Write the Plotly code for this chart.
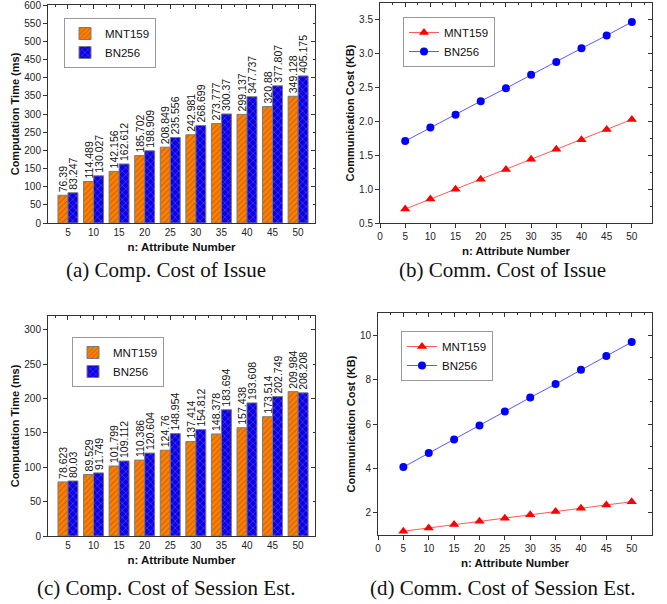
import plotly.graph_objects as go

# ---------------- data ----------------
n_attr = [5, 10, 15, 20, 25, 30, 35, 40, 45, 50]

# (a) computation time of issue (ms)
issue_mnt159 = [76.39, 114.489, 142.156, 185.702, 208.849, 242.981, 273.777, 299.137, 320.88, 349.128]
issue_bn256 = [83.247, 130.027, 162.612, 198.909, 235.556, 268.699, 300.37, 347.737, 377.807, 405.175]

# (b) communication cost of issue (KB)
comm_issue_mnt159 = [0.706, 0.853, 1.0, 1.147, 1.29, 1.44, 1.59, 1.73, 1.88, 2.03]
comm_issue_bn256 = [1.71, 1.91, 2.10, 2.30, 2.49, 2.69, 2.88, 3.08, 3.27, 3.47]

# (c) computation time of session establishment (ms)
sess_mnt159 = [78.623, 89.529, 101.799, 110.386, 124.76, 137.414, 148.378, 157.438, 173.514, 209.984]
sess_bn256 = [80.03, 91.749, 109.112, 120.604, 148.954, 154.812, 183.694, 193.608, 202.749, 208.208]

# (d) communication cost of session establishment (KB)
comm_sess_mnt159 = [1.17, 1.32, 1.47, 1.62, 1.76, 1.91, 2.06, 2.21, 2.35, 2.50]
comm_sess_bn256 = [4.06, 4.69, 5.30, 5.93, 6.56, 7.19, 7.80, 8.44, 9.06, 9.69]

series_names = ["MNT159", "BN256"]
captions = ["(a) Comp. Cost of Issue", "(b) Comm. Cost of Issue",
            "(c) Comp. Cost of Session Est.", "(d) Comm. Cost of Session Est."]

# ---------------- style ----------------
W, H = 667, 604
FONT = "Liberation Sans, Arial, sans-serif"
ORANGE = "#ff8000"
BLUE = "#0000ff"
BAR_W = 1.95

def px_x(a, b):
    return [a / W, b / W]

def px_y(top, bottom):
    return [1 - bottom / H, 1 - top / H]

fig = go.Figure()

def add_bars(mnt, bn, xa, ya, legend):
    fig.add_trace(go.Bar(
        x=n_attr, y=mnt, name=series_names[0], width=BAR_W, offset=-BAR_W,
        marker=dict(color=ORANGE, line=dict(color="#7a7a7a", width=1),
                    pattern=dict(shape="/", fgcolor="#a04800", bgcolor=ORANGE, size=4, solidity=0.3)),
        text=[str(v) for v in mnt], textposition="outside", textangle=-90,
        constraintext="none", cliponaxis=False,
        textfont=dict(family=FONT, size=10.5, color="#111"),
        xaxis=xa, yaxis=ya, legend=legend))
    fig.add_trace(go.Bar(
        x=n_attr, y=bn, name=series_names[1], width=BAR_W, offset=0,
        marker=dict(color=BLUE, line=dict(color="#7a7a7a", width=1),
                    pattern=dict(shape="x", fgcolor=ORANGE, bgcolor=BLUE, size=5, solidity=0.25)),
        text=[str(v) for v in bn], textposition="outside", textangle=-90,
        constraintext="none", cliponaxis=False,
        textfont=dict(family=FONT, size=10.5, color="#111"),
        xaxis=xa, yaxis=ya, legend=legend))

def add_lines(mnt, bn, xa, ya, legend):
    fig.add_trace(go.Scatter(
        x=n_attr, y=mnt, name=series_names[0], mode="lines+markers",
        line=dict(color="#ff5a5a", width=1),
        marker=dict(symbol="triangle-up", size=9, color="#ff0000"),
        xaxis=xa, yaxis=ya, legend=legend))
    fig.add_trace(go.Scatter(
        x=n_attr, y=bn, name=series_names[1], mode="lines+markers",
        line=dict(color="#5a5aff", width=1),
        marker=dict(symbol="circle", size=8, color="#0000ff"),
        xaxis=xa, yaxis=ya, legend=legend))

add_bars(issue_mnt159, issue_bn256, "x", "y", "legend")
add_lines(comm_issue_mnt159, comm_issue_bn256, "x2", "y2", "legend2")
add_bars(sess_mnt159, sess_bn256, "x3", "y3", "legend3")
add_lines(comm_sess_mnt159, comm_sess_bn256, "x4", "y4", "legend4")

# empty traces that carry the inward-ticked top/right mirror axes
for i in range(1, 5):
    fig.add_trace(go.Scatter(x=[], y=[], xaxis=f"x{i + 4}", yaxis=f"y{i + 4}",
                             showlegend=False, hoverinfo="skip"))

tickfont = dict(family=FONT, size=10, color="#222")
titlefont = dict(family=FONT, size=11, color="#111", weight="bold")
xtitlefont = dict(family=FONT, size=11.5, color="#111", weight="bold")

domains = {
    1: (px_x(48, 315), px_y(5, 223)),
    2: (px_x(380, 652), px_y(3, 223)),
    3: (px_x(48, 315), px_y(316, 536)),
    4: (px_x(378, 652), px_y(313, 535)),
}
xranges = {1: [1.1, 53.3], 2: [0, 54], 3: [1.1, 53.3], 4: [0, 54]}
yranges = {1: [0, 600.5], 2: [0.5, 3.75], 3: [0, 320], 4: [1, 11]}
ydtick = {1: 50, 2: 0.5, 3: 50, 4: 2}
ytitle = {1: "Computation Time (ms)", 2: "Communication Cost (KB)",
          3: "Computation Time (ms)", 4: "Communication Cost (KB)"}
ytickformat = {1: "d", 2: ".1f", 3: "d", 4: "d"}

def nm(prefix, k):
    return prefix if k == 1 else f"{prefix}{k}"

layout = {}
for i in range(1, 5):
    xd, yd = domains[i]
    is_bar = i in (1, 3)
    layout[nm("xaxis", i)] = dict(
        domain=xd, anchor=nm("y", i), range=xranges[i],
        tickmode="array", tickvals=(n_attr if is_bar else list(range(0, 55, 5))),
        ticks="" if is_bar else "outside", ticklen=4, tickcolor="#333",
        showline=True, linecolor="#333", linewidth=1, mirror=True,
        showgrid=False, zeroline=False, tickfont=tickfont, automargin=False,
        ticklabeloverflow="allow",
        title=dict(text="n: Attribute Number", font=xtitlefont, standoff=5))
    layout[nm("yaxis", i)] = dict(
        domain=yd, anchor=nm("x", i), range=yranges[i],
        dtick=ydtick[i], tick0=0, tickformat=ytickformat[i],
        ticks="outside", ticklen=4, tickcolor="#333",
        showline=True, linecolor="#333", linewidth=1, mirror=True,
        showgrid=False, zeroline=False, tickfont=tickfont, automargin=False,
        ticklabeloverflow="allow",
        title=dict(text=ytitle[i], font=titlefont, standoff=2))
    # top / right mirror axes with inward ticks
    layout[f"xaxis{i + 4}"] = dict(
        overlaying=nm("x", i), anchor=f"y{i + 4}", side="top", range=xranges[i],
        tickmode="linear", tick0=0 if not is_bar else 5, dtick=5,
        ticks="inside", ticklen=4, tickcolor="#333", showticklabels=False,
        minor=dict(ticks="inside", ticklen=2, dtick=2.5, tickcolor="#333"),
        showline=False, showgrid=False, zeroline=False, automargin=False)
    layout[f"yaxis{i + 4}"] = dict(
        overlaying=nm("y", i), anchor=f"x{i + 4}", side="right", range=yranges[i],
        tickmode="linear", tick0=0, dtick=ydtick[i] * (2 if is_bar else 1),
        ticks="inside", ticklen=4, tickcolor="#333", showticklabels=False,
        minor=dict(ticks="inside", ticklen=2, dtick=ydtick[i] / 2 * (2 if is_bar else 1), tickcolor="#333"),
        showline=False, showgrid=False, zeroline=False, automargin=False)

legend_pos = {1: (64, 18), 2: (403, 17), 3: (72, 337), 4: (401, 331)}
for i in range(1, 5):
    lx, ly = legend_pos[i]
    layout[nm("legend", i)] = dict(x=lx / W, y=1 - ly / H, xanchor="left", yanchor="top",
                                   bgcolor="white", bordercolor="#999", borderwidth=1,
                                   font=dict(family=FONT, size=11.5, color="#111"),
                                   tracegroupgap=0, itemwidth=30)

caption_pos = {1: (166, 270), 2: (502, 270), 3: (166, 588), 4: (502, 588)}
annotations = []
for i in range(1, 5):
    cx, cy = caption_pos[i]
    annotations.append(dict(text=captions[i - 1], x=cx / W, y=1 - cy / H,
                            xref="paper", yref="paper", showarrow=False,
                            xanchor="center", yanchor="middle",
                            font=dict(family="Liberation Serif, Times New Roman, serif", size=21, color="#111")))

fig.update_layout(
    width=W, height=H, margin=dict(l=0, r=0, t=0, b=0, autoexpand=False),
    paper_bgcolor="white", plot_bgcolor="white",
    barmode="overlay", showlegend=True, annotations=annotations,
    **layout)

fig.write_html("out.html", config={"displayModeBar": False},
               post_script="document.body.style.margin='0';")
